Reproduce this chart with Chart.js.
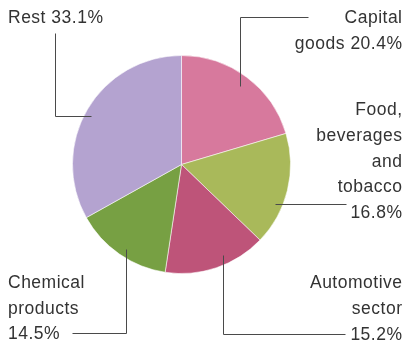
<!DOCTYPE html>
<html>
<head>
<meta charset="utf-8">
<script src="https://cdn.jsdelivr.net/npm/chart.js@4/dist/chart.umd.min.js"></script>
<style>
html,body{margin:0;padding:0;background:#fff;}
#wrap{width:406px;height:342px;position:relative;}
</style>
</head>
<body>
<div id="wrap"><canvas id="c" width="406" height="342"></canvas></div>
<script>
// ---- data ----
const categories = ["Capital\ngoods", "Food,\nbeverages\nand\ntobacco", "Automotive\nsector", "Chemical\nproducts", "Rest"];
const pctOnOwnLine = [false, true, true, true, false];
const values = [20.4, 16.8, 15.2, 14.5, 33.1];
const colors = ["#d7799d", "#a9b95a", "#be5479", "#77a043", "#b4a3d0"];

// ---- label layout (styling only) ----
// frac: position inside slice (0..1 of its angle), rf: radius fraction for leader start
// path: list of leader turns; 'v:y' vertical to y, 'h:x' horizontal to x
const labelLayout = [
  {align:"right", x:402, y:22.7, lh:26.4, frac:0.50, rf:0.90, path:[["v",17],["h",308]]},
  {align:"right", x:402, y:115,  lh:25.8, frac:0.65, rf:0.93, path:[["h",346]]},
  {align:"right", x:402, y:288.3,lh:25.8, frac:0.39, rf:0.91, path:[["v",334],["h",345]]},
  {align:"left",  x:8,   y:288,  lh:25.6, frac:0.47, rf:0.93, path:[["v",333],["h",72]]},
  {align:"left",  x:8,   y:22.7, lh:26,   frac:0.48, rf:0.94, path:[["h",55],["v",33]]}
];

function labelText(i){
  const pct = values[i].toFixed(1) + "%";
  return (categories[i] + (pctOnOwnLine[i] ? "\n" : " ") + pct).split("\n");
}

const leaderPlugin = {
  id: "leaders",
  afterDraw(chart){
    const ctx = chart.ctx;
    const meta = chart.getDatasetMeta(0);
    ctx.save();
    meta.data.forEach((arc, i) => {
      const L = labelLayout[i];
      const p = arc.getProps(["x","y","startAngle","endAngle","outerRadius"], true);
      const a = p.startAngle + (p.endAngle - p.startAngle) * L.frac;
      const r = p.outerRadius * L.rf;
      let x = p.x + r * Math.cos(a);
      let y = p.y + r * Math.sin(a);
      ctx.strokeStyle = "#4a4a4a";
      ctx.lineWidth = 1;
      ctx.beginPath();
      const snap = v => Math.round(v) + 0.5;
      let cx = snap(x), cy = snap(y);
      ctx.moveTo(cx, cy);
      L.path.forEach(([t, v]) => {
        if (t === "v") cy = snap(v); else cx = snap(v);
        ctx.lineTo(cx, cy);
      });
      ctx.stroke();

      ctx.fillStyle = "#333333";
      ctx.font = "17.5px 'Liberation Sans', Arial, sans-serif";
      try { ctx.letterSpacing = "0.5px"; } catch(e) {}
      ctx.textAlign = L.align;
      ctx.textBaseline = "alphabetic";
      labelText(i).forEach((line, k) => {
        ctx.fillText(line, L.x + (L.align === "right" ? 0.5 : 0), L.y + k * L.lh);
      });
    });
    ctx.restore();
  }
};

new Chart(document.getElementById("c"), {
  type: "pie",
  data: {
    labels: categories.map(c => c.replace(/\n/g, " ")),
    datasets: [{
      data: values,
      backgroundColor: colors,
      borderColor: "rgba(255,255,255,0.55)",
      borderWidth: 1
    }]
  },
  options: {
    responsive: false,
    animation: false,
    layout: {padding: {left: 72, right: 115, top: 55, bottom: 68}},
    plugins: {legend: {display: false}, tooltip: {enabled: false}}
  },
  plugins: [leaderPlugin]
});
</script>
</body>
</html>
